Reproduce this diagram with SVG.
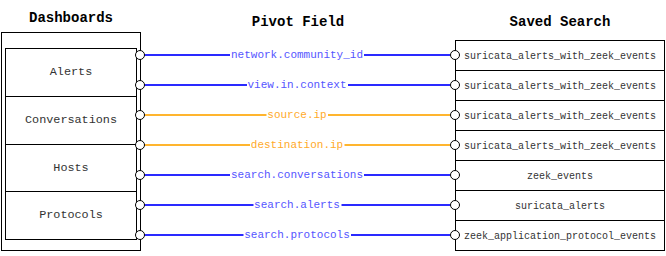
<svg xmlns="http://www.w3.org/2000/svg" width="666" height="256" viewBox="0 0 666 256">
  <style>
    .hdr { font-family: "Liberation Mono", "Courier New", monospace; font-weight: bold; font-size: 14px; fill: #000; text-anchor: middle; }
    .box { fill: #fff; stroke: #000; stroke-width: 1; }
    .dash { font-family: "Liberation Mono", "Courier New", monospace; font-size: 11.8px; fill: #333; text-anchor: middle; dominant-baseline: central; }
    .saved { font-family: "Liberation Mono", "Courier New", monospace; font-size: 10px; fill: #333; text-anchor: middle; dominant-baseline: central; }
    .port { fill: #fff; stroke: #000; stroke-width: 1; }
    .blue { stroke: #2a2aff; stroke-width: 2; fill: none; }
    .orange { stroke: #ffb52e; stroke-width: 2; fill: none; }
    .lbl { font-family: "Liberation Mono", "Courier New", monospace; font-size: 11px; text-anchor: middle; dominant-baseline: central; }
    .lblb { fill: #5555ff; }
    .lblo { fill: #ffaa2a; }
    .bg { fill: #fff; }
  </style>

  <!-- column headings -->
  <text class="hdr" x="71" y="22">Dashboards</text>
  <text class="hdr" x="298" y="26">Pivot Field</text>
  <text class="hdr" x="560" y="26">Saved Search</text>

  <!-- dashboards table -->
  <g id="dashboards">
    <rect class="box" x="1.5" y="32.5" width="139" height="218"/>
    <g id="dash-alerts">
      <rect class="box" x="5.5" y="48.5" width="131" height="48"/>
      <text class="dash" x="71" y="72">Alerts</text>
    </g>
    <g id="dash-conversations">
      <rect class="box" x="5.5" y="96.5" width="131" height="48"/>
      <text class="dash" x="71" y="120">Conversations</text>
    </g>
    <g id="dash-hosts">
      <rect class="box" x="5.5" y="144.5" width="131" height="47"/>
      <text class="dash" x="71" y="168">Hosts</text>
    </g>
    <g id="dash-protocols">
      <rect class="box" x="5.5" y="191.5" width="131" height="48"/>
      <text class="dash" x="71" y="215">Protocols</text>
    </g>
  </g>

  <!-- saved searches table -->
  <g id="saved-searches">
    <g id="ss-1">
      <rect class="box" x="455.5" y="40.5" width="209" height="30"/>
      <text class="saved" x="560" y="56">suricata_alerts_with_zeek_events</text>
    </g>
    <g id="ss-2">
      <rect class="box" x="455.5" y="70.5" width="209" height="30"/>
      <text class="saved" x="560" y="86">suricata_alerts_with_zeek_events</text>
    </g>
    <g id="ss-3">
      <rect class="box" x="455.5" y="100.5" width="209" height="30"/>
      <text class="saved" x="560" y="116">suricata_alerts_with_zeek_events</text>
    </g>
    <g id="ss-4">
      <rect class="box" x="455.5" y="130.5" width="209" height="30"/>
      <text class="saved" x="560" y="146">suricata_alerts_with_zeek_events</text>
    </g>
    <g id="ss-5">
      <rect class="box" x="455.5" y="160.5" width="209" height="30"/>
      <text class="saved" x="560" y="176">zeek_events</text>
    </g>
    <g id="ss-6">
      <rect class="box" x="455.5" y="190.5" width="209" height="30"/>
      <text class="saved" x="560" y="206">suricata_alerts</text>
    </g>
    <g id="ss-7">
      <rect class="box" x="455.5" y="220.5" width="209" height="30"/>
      <text class="saved" x="560" y="236">zeek_application_protocol_events</text>
    </g>
  </g>

  <!-- pivot field connectors -->
  <g id="connectors">
    <path class="blue" d="M144.5 55 H450.5"/>
    <path class="blue" d="M144.5 85 H450.5"/>
    <path class="orange" d="M144.5 115 H450.5"/>
    <path class="orange" d="M144.5 145 H450.5"/>
    <path class="blue" d="M144.5 175 H450.5"/>
    <path class="blue" d="M144.5 205 H450.5"/>
    <path class="blue" d="M144.5 235 H450.5"/>

    <!-- label backgrounds -->
    <rect class="bg" x="230" y="49" width="134" height="12"/>
    <rect class="bg" x="247" y="79" width="101" height="12"/>
    <rect class="bg" x="266.5" y="109" width="61.5" height="12"/>
    <rect class="bg" x="250" y="139" width="94.5" height="12"/>
    <rect class="bg" x="230" y="169" width="134" height="12"/>
    <rect class="bg" x="253.5" y="199" width="88" height="12"/>
    <rect class="bg" x="243.5" y="229" width="107.5" height="12"/>

    <text class="lbl lblb" x="297" y="55">network.community_id</text>
    <text class="lbl lblb" x="297" y="85">view.in.context</text>
    <text class="lbl lblo" x="297" y="115">source.ip</text>
    <text class="lbl lblo" x="297" y="145">destination.ip</text>
    <text class="lbl lblb" x="297" y="175">search.conversations</text>
    <text class="lbl lblb" x="297" y="205">search.alerts</text>
    <text class="lbl lblb" x="297" y="235">search.protocols</text>

    <!-- end ports -->
    <circle class="port" cx="140" cy="55" r="4.5"/>
    <circle class="port" cx="140" cy="85" r="4.5"/>
    <circle class="port" cx="140" cy="115" r="4.5"/>
    <circle class="port" cx="140" cy="145" r="4.5"/>
    <circle class="port" cx="140" cy="175" r="4.5"/>
    <circle class="port" cx="140" cy="205" r="4.5"/>
    <circle class="port" cx="140" cy="235" r="4.5"/>
    <circle class="port" cx="455" cy="55" r="4.5"/>
    <circle class="port" cx="455" cy="85" r="4.5"/>
    <circle class="port" cx="455" cy="115" r="4.5"/>
    <circle class="port" cx="455" cy="145" r="4.5"/>
    <circle class="port" cx="455" cy="175" r="4.5"/>
    <circle class="port" cx="455" cy="205" r="4.5"/>
    <circle class="port" cx="455" cy="235" r="4.5"/>
  </g>
</svg>
